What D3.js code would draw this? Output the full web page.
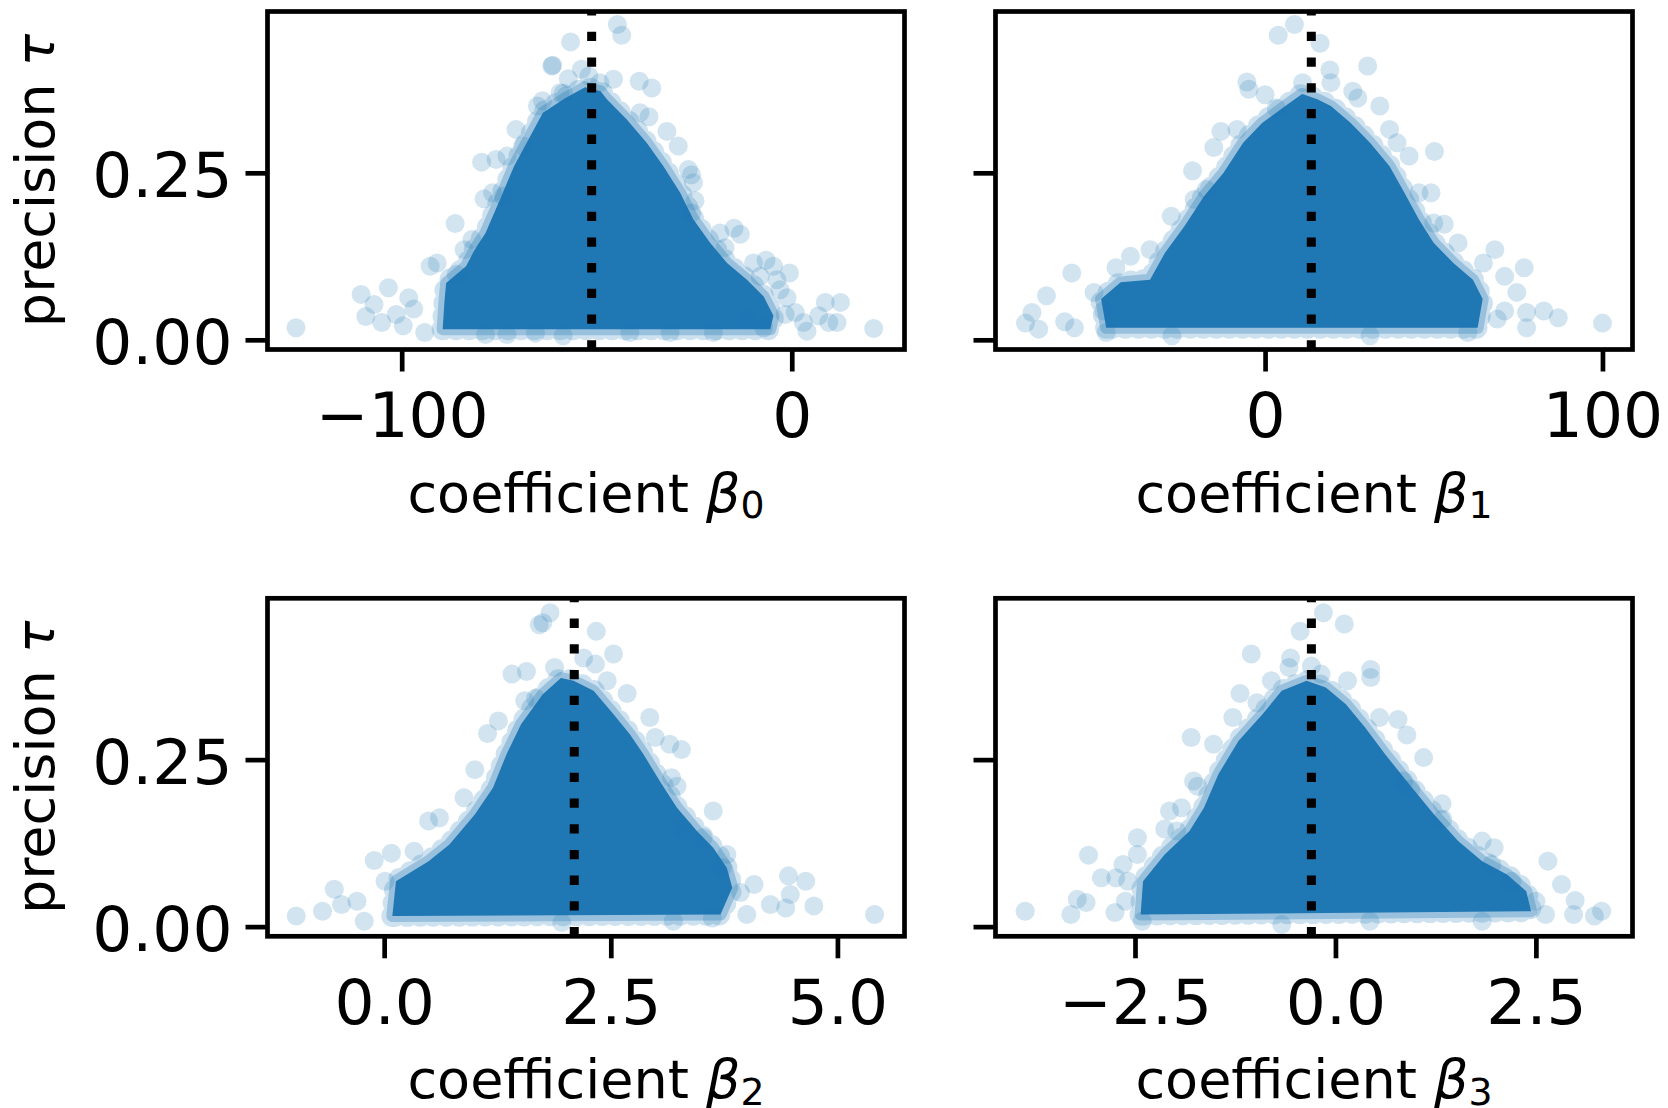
<!DOCTYPE html>
<html><head><meta charset="utf-8">
<script src="https://cdn.jsdelivr.net/npm/d3@7"></script>
<style>html,body{margin:0;padding:0;background:#fff;} svg{display:block;} text{font-family:"DejaVu Sans",sans-serif;fill:#000;}</style>
</head><body><svg id="chart" width="1668" height="1108"></svg>
<script>
// ---------- data ----------
const tauLimits = [-0.0145, 0.4915];
const tauTicks = [0.00, 0.25];
const tauTickLabels = ["0.00", "0.25"];

const b0Limits = [-134.4, 28.9];
const b0Ticks = [-100, 0];
const b0TickLabels = ["\u2212100", "0"];
const b0Mean = -51.3;
const b0Core = [[-89.5,0.016],[-89.0,0.060],[-88.6,0.085],[-83.5,0.110],[-81.3,0.135],[-78.5,0.160],[-74.8,0.210],[-71.2,0.260],[-67.5,0.300],[-63.8,0.340],[-58.0,0.362],[-53.0,0.378],[-49.0,0.372],[-47.4,0.360],[-42.3,0.330],[-37.2,0.295],[-32.9,0.260],[-28.6,0.220],[-25.2,0.180],[-20.9,0.145],[-16.6,0.115],[-11.5,0.090],[-7.2,0.065],[-4.7,0.036],[-5.5,0.016]];
const b0Points = [[-127.1,0.018],[-110.4,0.068],[-103.4,0.078],[-109.2,0.035],[-107.1,0.053],[-105.1,0.026],[-101.4,0.038],[-99.6,0.021],[-98.2,0.063],[-94.1,0.011],[-96.9,0.046],[-92.7,0.110],[-90.9,0.115],[-86.3,0.174],[-84.0,0.135],[-79.5,0.266],[-78.9,0.211],[-75.8,0.270],[-73.0,0.275],[-70.7,0.315],[-65.2,0.350],[-61.5,0.410],[-76.7,0.220],[-73.9,0.215],[-78.5,0.008],[-73.0,0.008],[-65.7,0.010],
[-44.7,0.472],[-43.6,0.456],[-56.7,0.446],[-61.3,0.411],[-53.9,0.405],[-57.3,0.391],[-45.7,0.390],[-39.1,0.387],[-35.9,0.377],[-59.4,0.370],[-49.2,0.385],[-38.9,0.340],[-32.0,0.312],[-29.1,0.290],[-26.5,0.255],[-25.2,0.235],[-24.8,0.208],[-25.6,0.190],[-18.4,0.160],[-13.2,0.158],[-17.1,0.138],[-9.8,0.115],[-4.7,0.110],[-0.6,0.100],[-3.8,0.090],[-3.0,0.075],[-1.2,0.063],[0.9,0.041],[3.0,0.026],[3.9,0.013],[8.6,0.056],[12.5,0.056],[9.5,0.026],[11.6,0.026],[6.9,0.036],[21.0,0.017],[-8.1,0.095],[-1.7,0.038],[-11.5,0.031],[-7.2,0.018],[-31.2,0.011],[-58.6,0.006],[-41.5,0.011],[-20.1,0.011],
[-63.9,0.358],[-58.5,0.369],[-36.6,0.334],[-25.7,0.247],[-14.8,0.167],[-6.6,0.119],[-86.0,0.098],[-82.0,0.150],[-69.0,0.290],[-52.0,0.395]];

const b1Limits = [-79.9, 108.9];
const b1Ticks = [0, 100];
const b1TickLabels = ["0", "100"];
const b1Mean = 13.7;
const b1Core = [[-47.1,0.018],[-48.6,0.061],[-42.8,0.086],[-34.1,0.090],[-29.7,0.130],[-23.9,0.170],[-18.1,0.215],[-12.3,0.250],[-6.5,0.295],[-0.8,0.325],[6.5,0.352],[11.0,0.368],[15.5,0.360],[19.5,0.350],[25.3,0.325],[31.1,0.295],[36.9,0.260],[41.3,0.220],[45.6,0.180],[50.0,0.145],[55.8,0.115],[61.6,0.090],[64.5,0.061],[63.0,0.018]];
const b1Points = [[8.7,0.472],[3.9,0.456],[16.3,0.444],[30.4,0.410],[19.2,0.404],[-5.4,0.386],[-4.8,0.375],[0.0,0.367],[11.1,0.385],[19.5,0.385],[26.0,0.372],[27.5,0.362],[34.0,0.350],[3.3,0.347],[-13.1,0.312],[-8.3,0.315],[-15.2,0.288],[36.9,0.315],[39.1,0.295],[50.2,0.282],[42.7,0.275],[-21.5,0.253],[45.6,0.220],[49.2,0.220],[50.0,0.175],[53.1,0.173],[-27.8,0.185],[57.2,0.145],[68.1,0.135],[64.7,0.115],[76.8,0.108],[71.0,0.095],[74.6,0.071],[71.0,0.043],[77.5,0.041],[82.6,0.043],[86.9,0.033],[77.5,0.018],[100.0,0.025],[68.8,0.031],[60.1,0.011],[-39.9,0.125],[-44.2,0.108],[-57.3,0.100],[-64.8,0.066],[-69.1,0.041],[-71.0,0.025],[-67.1,0.016],[-59.4,0.027],[-56.5,0.018],[-50.7,0.071],[-47.8,0.043],[-34.1,0.135],[-21.0,0.210],[-17.4,0.225],[-47.1,0.011],[-27.6,0.006],[31.1,0.006]];

const b2Limits = [-1.287, 5.740];
const b2Ticks = [0.0, 2.5, 5.0];
const b2TickLabels = ["0.0", "2.5", "5.0"];
const b2Mean = 2.097;
const b2Core = [[0.09,0.016],[0.13,0.068],[0.49,0.098],[0.72,0.123],[1.00,0.168],[1.20,0.208],[1.35,0.258],[1.51,0.303],[1.75,0.348],[1.95,0.372],[2.09,0.368],[2.31,0.353],[2.53,0.318],[2.71,0.288],[2.86,0.258],[3.04,0.218],[3.23,0.178],[3.45,0.143],[3.63,0.118],[3.78,0.088],[3.84,0.058],[3.71,0.018]];
const b2Points = [[-0.97,0.016],[-0.68,0.023],[-0.55,0.056],[-0.47,0.033],[-0.30,0.038],[-0.22,0.008],[-0.11,0.099],[0.08,0.110],[0.33,0.113],[0.49,0.158],[0.61,0.163],[0.88,0.193],[1.00,0.235],[1.14,0.289],[1.26,0.308],[1.41,0.378],[1.57,0.382],[1.71,0.452],[1.83,0.470],[1.55,0.338],[1.67,0.342],[0.01,0.068],
[1.75,0.455],[2.34,0.442],[2.53,0.408],[2.20,0.402],[1.88,0.388],[2.33,0.393],[2.46,0.368],[2.68,0.349],[2.93,0.313],[2.99,0.283],[3.15,0.273],[3.28,0.265],[3.17,0.223],[3.23,0.210],[3.63,0.173],[3.30,0.146],[3.52,0.133],[3.78,0.108],[3.73,0.088],[4.08,0.063],[3.93,0.051],[4.26,0.033],[4.46,0.076],[4.65,0.068],[4.48,0.048],[4.43,0.028],[4.74,0.031],[5.41,0.018],[4.00,0.018],[3.19,0.008],[3.62,0.013],[1.96,0.006]];

const b3Limits = [-4.240, 3.705];
const b3Ticks = [-2.5, 0.0, 2.5];
const b3TickLabels = ["\u22122.5", "0.0", "2.5"];
const b3Mean = -0.30;
const b3Core = [[-2.43,0.018],[-2.40,0.068],[-2.13,0.108],[-1.82,0.143],[-1.64,0.178],[-1.46,0.228],[-1.21,0.278],[-0.91,0.318],[-0.67,0.353],[-0.36,0.368],[-0.12,0.358],[0.13,0.333],[0.37,0.298],[0.62,0.258],[0.92,0.213],[1.23,0.168],[1.53,0.128],[1.83,0.098],[2.14,0.078],[2.38,0.053],[2.44,0.023]];
const b3Points = [[-0.15,0.470],[0.11,0.453],[-0.44,0.442],[-1.05,0.408],[-0.56,0.402],[-0.58,0.388],[-0.30,0.390],[-0.18,0.378],[0.44,0.385],[0.44,0.373],[0.15,0.368],[-0.80,0.368],[-1.19,0.349],[-0.98,0.335],[-1.28,0.313],[-1.80,0.283],[-1.52,0.273],[0.78,0.310],[0.89,0.287],[0.55,0.313],[1.10,0.253],[0.85,0.218],[0.94,0.206],[1.33,0.184],[1.34,0.161],[-1.77,0.218],[-1.72,0.210],[-2.07,0.173],[-1.92,0.178],[-2.13,0.146],[-1.98,0.143],[-2.47,0.133],[-2.47,0.108],[-3.08,0.107],[-2.65,0.093],[-2.92,0.073],[-2.74,0.073],[-2.59,0.068],[-2.62,0.038],[-3.22,0.041],[-3.11,0.036],[-3.30,0.018],[-2.75,0.021],[-3.87,0.023],[1.83,0.128],[1.98,0.118],[1.95,0.093],[2.20,0.068],[2.65,0.098],[2.82,0.063],[2.50,0.038],[2.62,0.018],[2.99,0.039],[2.97,0.018],[3.23,0.016],[3.32,0.023],[1.83,0.008],[-0.67,0.003],[-2.41,0.008],[0.43,0.008]];

// ---------- layout ----------
const svg = d3.select("#chart");
const W = 637, H = 338;
const colX = [267.5, 995.5];
const rowY = [11.5, 598.3];
const blue = "#1f77b4";
const tickFont = 63, labelFont = 54;

const panels = [
  {id:"b0", lim:b0Limits, ticks:b0Ticks, labels:b0TickLabels, mean:b0Mean, core:b0Core, pts:b0Points, sub:"0", col:0, row:0},
  {id:"b1", lim:b1Limits, ticks:b1Ticks, labels:b1TickLabels, mean:b1Mean, core:b1Core, pts:b1Points, sub:"1", col:1, row:0},
  {id:"b2", lim:b2Limits, ticks:b2Ticks, labels:b2TickLabels, mean:b2Mean, core:b2Core, pts:b2Points, sub:"2", col:0, row:1},
  {id:"b3", lim:b3Limits, ticks:b3Ticks, labels:b3TickLabels, mean:b3Mean, core:b3Core, pts:b3Points, sub:"3", col:1, row:1}
];

panels.forEach(p => {
  const x0 = colX[p.col], y0 = rowY[p.row];
  const x = d3.scaleLinear().domain(p.lim).range([x0, x0 + W]);
  const y = d3.scaleLinear().domain(tauLimits).range([y0 + H, y0]);
  const g = svg.append("g");

  g.append("clipPath").attr("id", "clip-" + p.id)
    .append("rect").attr("x", x0).attr("y", y0).attr("width", W).attr("height", H);
  const plot = g.append("g").attr("clip-path", "url(#clip-" + p.id + ")");

  // dense core of samples: scalloped fringe of overlapping markers + solid body
  const line = d3.line().x(d => x(d[0])).y(d => y(d[1])).curve(d3.curveLinearClosed);
  plot.append("path").attr("d", line(p.core))
    .attr("fill", "none").attr("stroke", blue).attr("stroke-opacity", 0.22)
    .attr("stroke-width", 22).attr("stroke-linecap", "round").attr("stroke-dasharray", "0,13");
  plot.append("path").attr("d", line(p.core))
    .attr("fill", "none").attr("stroke", blue).attr("stroke-opacity", 0.3)
    .attr("stroke-width", 12).attr("stroke-linejoin", "round");
  plot.append("path").attr("d", line(p.core))
    .attr("fill", blue).attr("stroke", "none");

  // sparse samples
  plot.selectAll("circle.pt").data(p.pts).join("circle")
    .attr("class", "pt")
    .attr("cx", d => x(d[0])).attr("cy", d => y(d[1])).attr("r", 9.5)
    .attr("fill", blue).attr("fill-opacity", 0.2);

  // mean line (dotted)
  plot.append("line")
    .attr("x1", x(p.mean)).attr("x2", x(p.mean))
    .attr("y1", y0 + H).attr("y2", y0)
    .attr("stroke", "#000").attr("stroke-width", 9)
    .attr("stroke-dasharray", "9.3,16.4");

  // x axis
  const xa = g.append("g").attr("transform", `translate(0,${y0 + H})`)
    .call(d3.axisBottom(x).tickValues(p.ticks).tickFormat((d, i) => p.labels[i])
      .tickSize(22).tickSizeOuter(0).tickPadding(21));
  xa.select(".domain").remove();
  xa.selectAll(".tick line").attr("stroke", "#000").attr("stroke-width", 4.7);
  xa.selectAll(".tick text").attr("font-size", tickFont).attr("font-family", "DejaVu Sans").attr("fill", "#000");

  // y axis
  const ya = g.append("g").attr("transform", `translate(${x0},0)`)
    .call(d3.axisLeft(y).tickValues(tauTicks).tickFormat((d, i) => p.col === 0 ? tauTickLabels[i] : "")
      .tickSize(22).tickSizeOuter(0).tickPadding(13));
  ya.select(".domain").remove();
  ya.selectAll(".tick line").attr("stroke", "#000").attr("stroke-width", 4.7);
  ya.selectAll(".tick text").attr("font-size", tickFont).attr("font-family", "DejaVu Sans").attr("fill", "#000").attr("dy", "0.38em");

  // spines
  g.append("rect").attr("x", x0).attr("y", y0).attr("width", W).attr("height", H)
    .attr("fill", "none").attr("stroke", "#000").attr("stroke-width", 4.7);

  // x label
  const xl = g.append("text").attr("x", x0 + W / 2).attr("y", y0 + H + 162)
    .attr("text-anchor", "middle").attr("font-size", labelFont);
  xl.append("tspan").text("coefficient ");
  xl.append("tspan").attr("font-style", "italic").text("\u03B2");
  xl.append("tspan").attr("font-size", labelFont * 0.7).attr("dy", 6.5).text(p.sub);

  // y label
  if (p.col === 0) {
    const yl = g.append("text")
      .attr("transform", `translate(54,${y0 + H / 2}) rotate(-90)`)
      .attr("text-anchor", "middle").attr("font-size", labelFont);
    yl.append("tspan").text("precision ");
    yl.append("tspan").attr("font-style", "italic").text("\u03C4");
  }
});
</script></body></html>
